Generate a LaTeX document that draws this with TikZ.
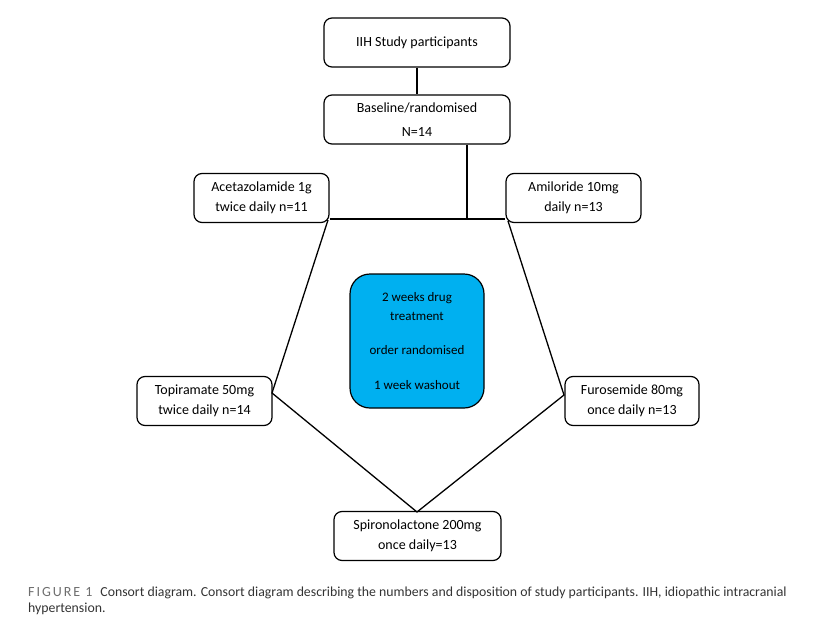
\documentclass[tikz,border=0pt]{standalone}
\usepackage{fontspec}
\setmainfont{Carlito}
\definecolor{treatblue}{HTML}{00B0F0}
\definecolor{capgray}{HTML}{333333}
\definecolor{figgray}{HTML}{6E6E6E}
\begin{document}
\begin{tikzpicture}[x=1pt,y=-1pt,
    box/.style={draw,line width=1.2pt,rounded corners=8pt,fill=white,
      align=center,inner sep=0pt,minimum height=49pt,
      font=\fontsize{14}{20}\selectfont},
    treatbox/.style={draw,line width=1.2pt,rounded corners=20pt,fill=treatblue,
      align=center,inner sep=0pt,minimum width=134pt,minimum height=134pt,
      font=\fontsize{13}{19}\selectfont},
    link/.style={line width=1.3pt}]
  \useasboundingbox (0,0) rectangle (838,621);
  % boxes
  \node[box,minimum width=186pt] (iih) at (417,42.5) {IIH Study participants};
  \node[box,minimum width=186pt] (base) at (417,119.5) {Baseline/randomised\\[4pt]N=14};
  \node[box,minimum width=135pt] (acet) at (261.5,198) {Acetazolamide 1g\\twice daily n=11};
  \node[box,minimum width=135pt] (amil) at (573.5,198) {Amiloride 10mg\\daily n=13};
  \node[treatbox] (treat) at (417,341) {2 weeks drug\\treatment\\[15pt]order randomised\\[16pt]1 week washout};
  \node[box,minimum width=135pt] (topi) at (204.5,401) {Topiramate 50mg\\twice daily n=14};
  \node[box,minimum width=134pt] (furo) at (632,401) {Furosemide 80mg\\once daily n=13};
  \node[box,minimum width=167pt] (spiro) at (417.5,536) {Spironolactone 200mg\\once daily=13};
  % corners of the cycle
  \coordinate (jn) at (467,219);
  \coordinate (pA) at (328,220);
  \coordinate (pB) at (272,393);
  \coordinate (pC) at (417,512);
  \coordinate (pD) at (564,395);
  \coordinate (pE) at (508,221);
  \begin{scope}[link]
    \draw (iih) to (base);
    \draw (jn |- base.south) to (jn);
    \draw (acet.south east |- jn) to (amil.south west |- jn);
    \draw (pA) -- (pB) -- (pC) -- (pD) -- (pE);
  \end{scope}
  % caption
  \node[anchor=base west,inner sep=0pt,text=capgray,font=\fontsize{13.8}{16}\selectfont] (cap1) at (28,596)
    {{\color{figgray}\addfontfeatures{LetterSpace=14}\fontsize{14}{16}\selectfont FIGURE 1}\hspace{8pt}Consort diagram. Consort diagram describing the numbers and disposition of study participants. IIH, idiopathic intracranial};
  \node[anchor=base west,inner sep=0pt,text=capgray,font=\fontsize{13.8}{16}\selectfont] (cap2) at (28,612) {hypertension.};
\end{tikzpicture}
\end{document}
